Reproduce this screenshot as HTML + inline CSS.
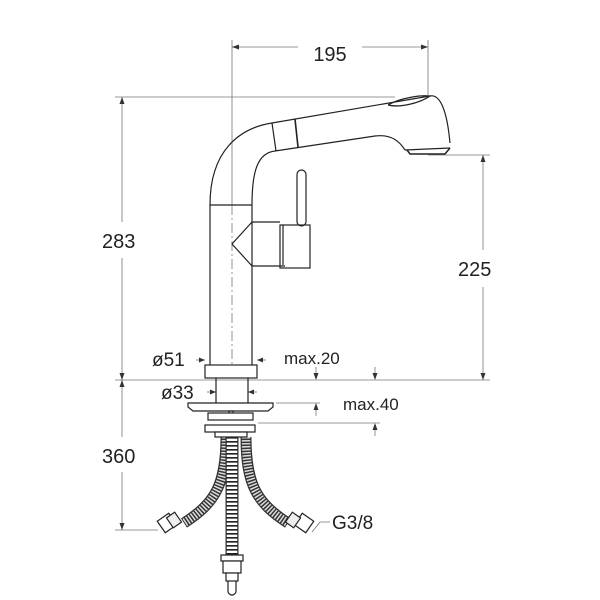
<!DOCTYPE html>
<html><head><meta charset="utf-8"><style>
html,body{margin:0;padding:0;background:#fff;width:600px;height:600px;overflow:hidden}
text{font-family:"Liberation Sans",sans-serif;fill:#222}
</style></head><body>
<svg width="600" height="600" viewBox="0 0 600 600" xmlns="http://www.w3.org/2000/svg">
<g stroke="#777" stroke-width="0.8" fill="none">
 <line x1="232" y1="40" x2="232" y2="205"/>
 <line x1="428" y1="40" x2="428" y2="95"/>
 <line x1="232" y1="47" x2="298" y2="47"/><line x1="362" y1="47" x2="428" y2="47"/>
 <line x1="115" y1="97" x2="395" y2="97"/>
 <line x1="122" y1="97" x2="122" y2="222"/><line x1="122" y1="258" x2="122" y2="380"/>
 <line x1="115" y1="380" x2="490" y2="380"/>
 <line x1="122" y1="380" x2="122" y2="437"/><line x1="122" y1="472" x2="122" y2="530"/>
 <line x1="115" y1="530" x2="158" y2="530"/>
 <line x1="428" y1="155" x2="490" y2="155"/>
 <line x1="483" y1="155" x2="483" y2="250"/><line x1="483" y1="287" x2="483" y2="380"/>
 <line x1="276" y1="403" x2="320" y2="403"/>
 <line x1="258" y1="423" x2="380" y2="423"/>
 <line x1="375" y1="367" x2="375" y2="378"/>
 <line x1="375" y1="425" x2="375" y2="436"/>
 <line x1="316" y1="367" x2="316" y2="378"/>
 <line x1="316" y1="405" x2="316" y2="416"/>
 <line x1="232" y1="205" x2="232" y2="380" stroke-dasharray="10 3 2 3"/>
 <line x1="196" y1="360" x2="205" y2="360"/><line x1="257" y1="360" x2="266" y2="360"/>
 <line x1="207" y1="392" x2="216" y2="392"/><line x1="248" y1="392" x2="257" y2="392"/>
 <polyline points="330,522 320,522 312,532"/>
</g>
<!-- hoses -->
<g fill="none" stroke-linecap="butt">
 <path d="M226,437 C226,485 215,503 184,523" stroke="#333" stroke-width="11"/>
 <path d="M226,437 C226,485 215,503 184,523" stroke="#ddd" stroke-width="8.5" stroke-dasharray="1.5 1.5"/>
 <path d="M246,437 C246,485 257,503 288,523" stroke="#333" stroke-width="11"/>
 <path d="M246,437 C246,485 257,503 288,523" stroke="#ddd" stroke-width="8.5" stroke-dasharray="1.5 1.5"/>
 <line x1="232" y1="437" x2="232" y2="556" stroke="#333" stroke-width="13"/>
 <line x1="232" y1="437" x2="232" y2="556" stroke="#fff" stroke-width="10.5"/>
 <line x1="232" y1="437" x2="232" y2="556" stroke="#222" stroke-width="11" stroke-dasharray="1.6 2.4"/>
</g>
<g stroke="#222" stroke-width="1.2" fill="none">
 <path d="M210,365 L210,205 C210,150 240,128 272,123 L430,96"/>
 <path d="M252,365 L252,205 C252,170 258,153 275,151 L375,136 C392,134 400,142 405,150"/>
 <path d="M430,96 C440,94 447,110 450,143"/>
 <path d="M405,150 L450,148"/>
 <path d="M407,150 l3,4 h35 l5,-6" stroke-width="1.5"/>
 <path d="M388,105 C400,98 420,95 430,96 C420,103 400,108 388,105" stroke-width="1.3"/>
 <line x1="272" y1="123" x2="276" y2="151"/>
 <line x1="295" y1="119" x2="298" y2="147" stroke-width="1.6"/>
 <line x1="210" y1="205" x2="252" y2="205"/>
 <rect x="297" y="170" width="9" height="56" rx="4.5"/>
 <rect x="280" y="225" width="30" height="43"/>
 <line x1="283" y1="225" x2="283" y2="265"/>
 <line x1="252" y1="222" x2="280" y2="222"/><line x1="252" y1="266" x2="285" y2="266"/>
 <polyline points="252,222 232,244 252,266"/>
 <rect x="205" y="365" width="52" height="13" fill="#fff"/>
 <line x1="216" y1="378" x2="216" y2="403"/><line x1="248" y1="378" x2="248" y2="403"/>
 <path d="M188,403 h85 v4 l-5,4 h-75 l-5,-4 z" fill="#fff"/>
 <rect x="229" y="411" width="4" height="4"/>
 <rect x="208" y="413" width="45" height="7" fill="#fff"/>
 <rect x="205" y="425" width="50" height="7" fill="#fff"/>
 <rect x="215" y="432" width="32" height="5" fill="#fff"/>
 <rect x="160" y="516" width="14" height="14" transform="rotate(-35 167 523)" fill="#fff"/>
 <rect x="169" y="514" width="10" height="12" transform="rotate(-35 174 520)" fill="#eee"/>
 <rect x="297" y="516" width="14" height="14" transform="rotate(35 304 523)" fill="#fff" x2="0"/>
 <rect x="288" y="514" width="10" height="12" transform="rotate(35 293 520)" fill="#eee"/>
 <rect x="221" y="555" width="22" height="6" fill="#fff"/>
 <rect x="223" y="561" width="18" height="12" fill="#fff"/>
 <rect x="226" y="573" width="12" height="8" fill="#fff"/>
 <path d="M228,581 v10 a4,4 0 0 0 8,0 v-10"/>
</g>
<g fill="#333" stroke="none">
 <path d="M122,97 l-2.5,7 h5z M122,380 l-2.5,-7 h5z M122,380 l-2.5,7 h5z M122,530 l-2.5,-7 h5z"/>
 <path d="M483,155 l-2.5,7 h5z M483,380 l-2.5,-7 h5z"/>
 <path d="M232,47 l7,-2.5 v5z M428,47 l-7,-2.5 v5z"/>
 <path d="M316,380 l-2.5,-7 h5z M316,403 l-2.5,7 h5z M375,380 l-2.5,-7 h5z M375,423 l-2.5,7 h5z"/>
 <path d="M205,360 l-6,-2.5 v5z M257,360 l6,-2.5 v5z M216,392 l-6,-2.5 v5z M248,392 l6,-2.5 v5z"/>
</g>
<text x="330" y="61" font-size="20" text-anchor="middle">195</text>
<text x="102" y="248" font-size="20">283</text>
<text x="102" y="463" font-size="20">360</text>
<text x="458" y="276" font-size="20">225</text>
<text x="152" y="366" font-size="19">ø51</text>
<text x="161" y="399" font-size="19">ø33</text>
<text x="284" y="364" font-size="17">max.20</text>
<text x="343" y="410" font-size="17">max.40</text>
<text x="332" y="529" font-size="19">G3/8</text>
</svg>
</body></html>
